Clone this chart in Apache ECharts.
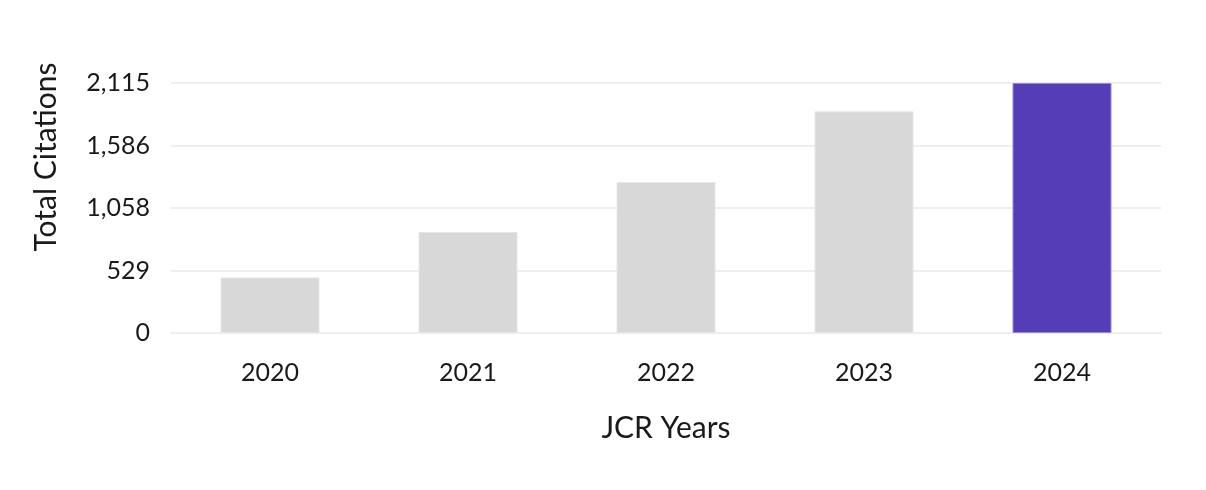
<!DOCTYPE html>
<html><head><meta charset="utf-8">
<script src="https://cdn.jsdelivr.net/npm/echarts@6/dist/echarts.min.js"></script>
<style>html,body{margin:0;padding:0;background:#fff}#c{width:1206px;height:490px}</style>
</head><body><div id="c"></div>
<script>
const years = ['2020','2021','2022','2023','2024'];
const citations = [470, 854, 1277, 1875, 2115];
const yTicks = [0, 529, 1058, 1586, 2115];
const highlightYear = '2024';

const chart = echarts.init(document.getElementById('c'), null, {renderer:'canvas'});
const font = 'Lato';
const yMax = yTicks[yTicks.length-1];
chart.setOption({
  animation:false,
  grid:{left:171, right:45, top:83, bottom:157},
  xAxis:{
    type:'category', data:years,
    name:'JCR Years', nameLocation:'middle', nameGap:80,
    nameTextStyle:{fontFamily:font, fontSize:30, color:'#1a1a1a'},
    axisLine:{show:true, lineStyle:{color:'#eeeeee', width:2}},
    axisTick:{show:false},
    axisLabel:{fontFamily:font, fontSize:25, color:'#1a1a1a', margin:27}
  },
  yAxis:{
    type:'value', min:0, max:yMax, interval:yMax/(yTicks.length-1),
    name:'Total Citations', nameLocation:'middle', nameGap:110,
    nameTextStyle:{fontFamily:font, fontSize:30, color:'#1a1a1a', padding:[0,0,0,102]},
    axisLine:{show:false}, axisTick:{show:false},
    splitLine:{lineStyle:{color:'#eeeeee', width:2}},
    axisLabel:{fontFamily:font, fontSize:25, color:'#1a1a1a', margin:21,
      formatter:(v)=>{ let best=yTicks.reduce((a,b)=>Math.abs(b-v)<Math.abs(a-v)?b:a); return best.toLocaleString('en-US'); }}
  },
  series:[{
    type:'bar', barWidth:'50%',
    data: citations.map((v,i)=>({
      value:v,
      itemStyle: years[i]===highlightYear
        ? {color:'#563db8', borderColor:'#9486dc', borderWidth:1}
        : {color:'#d8d8d8', borderColor:'#e6e6e6', borderWidth:1}
    }))
  }]
});
</script></body></html>
